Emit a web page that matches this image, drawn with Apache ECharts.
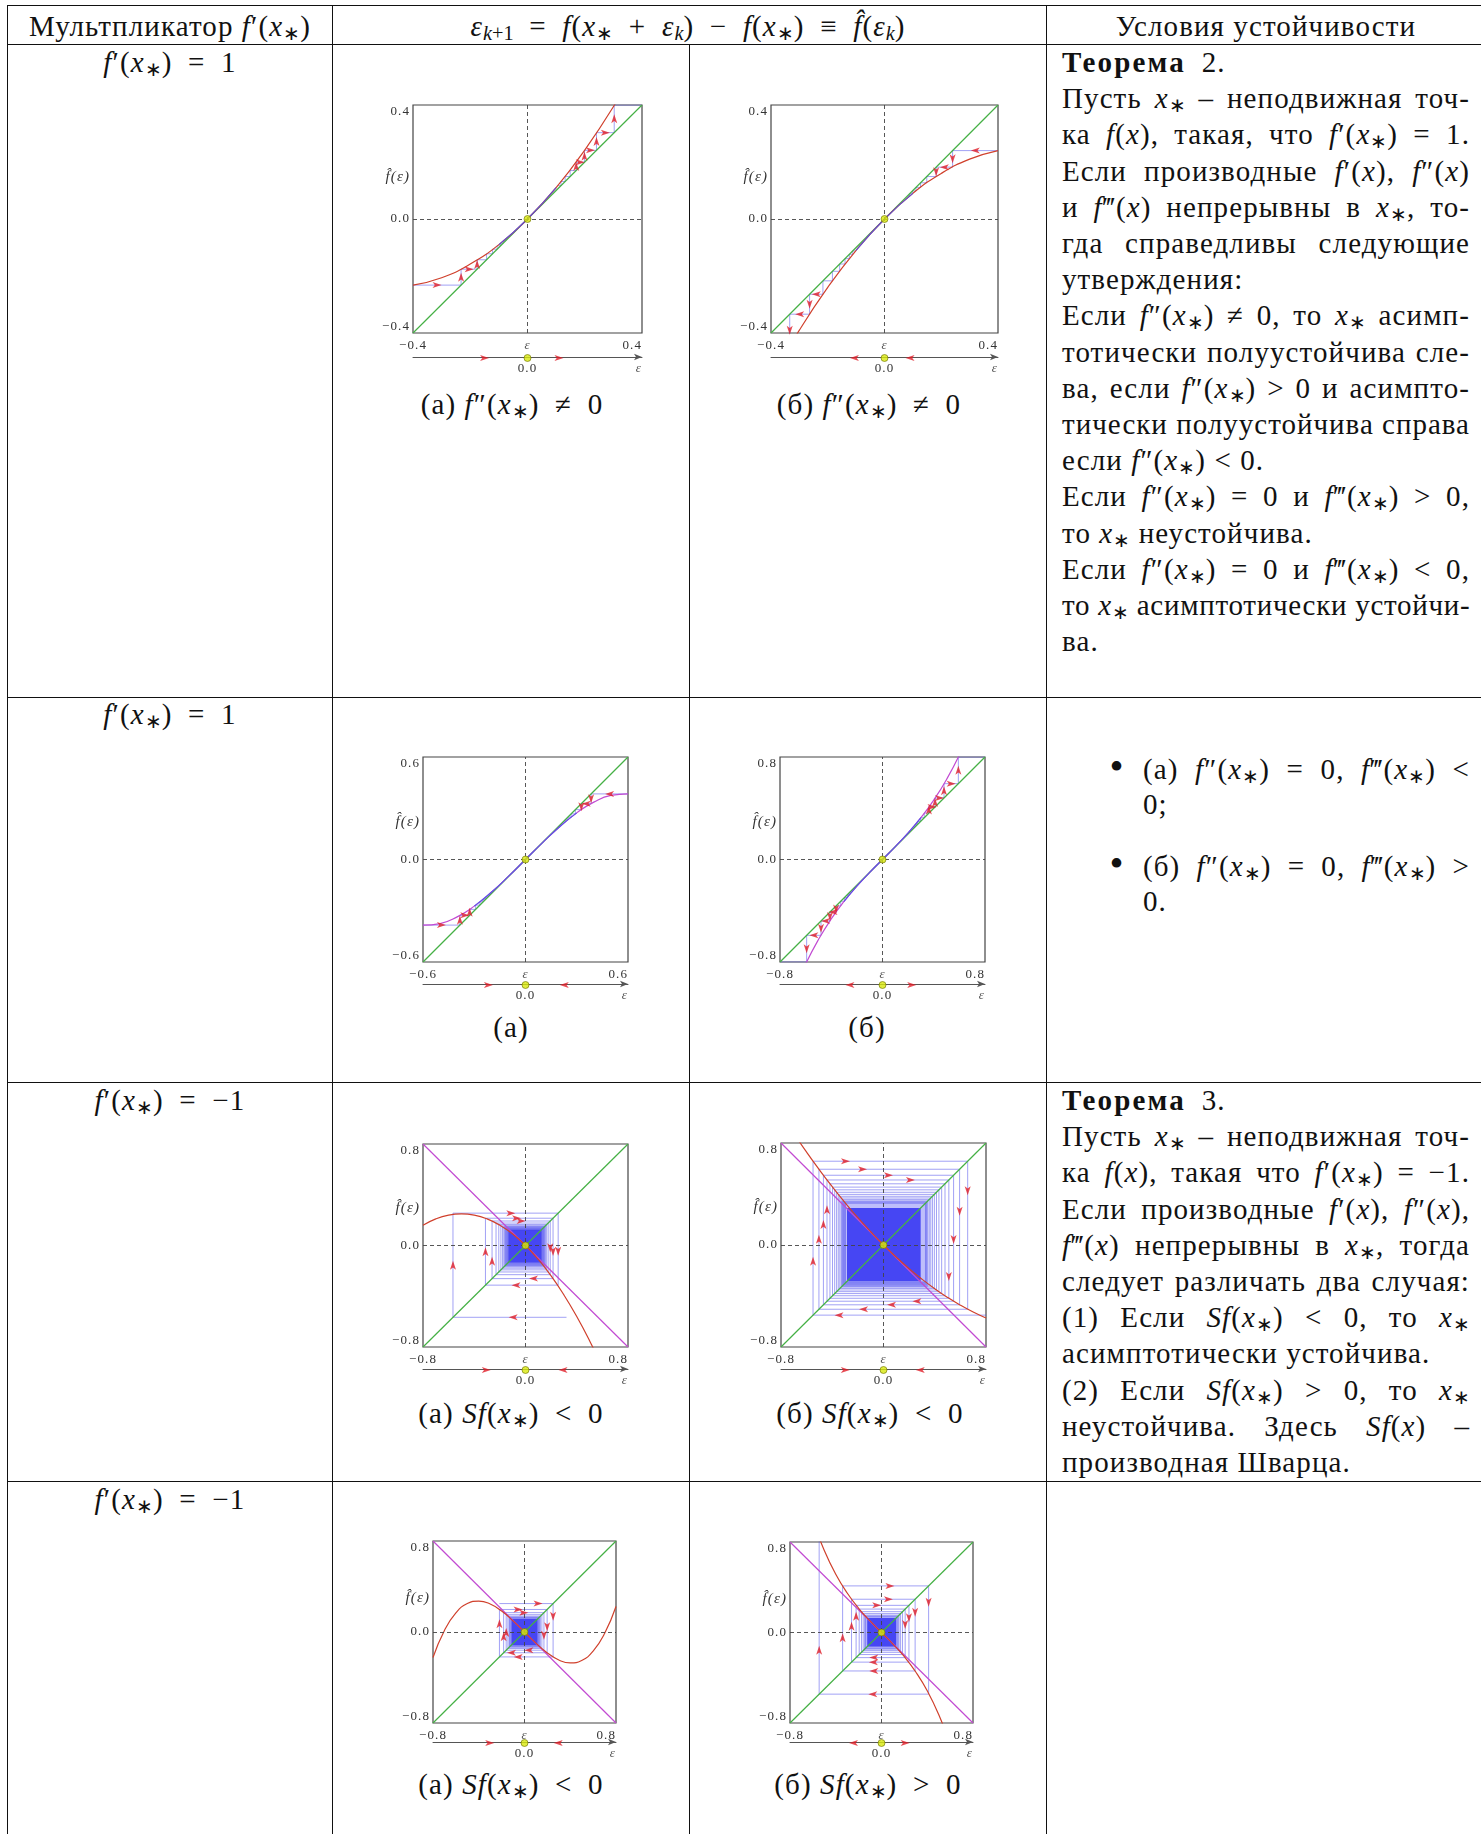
<!DOCTYPE html>
<html>
<head>
<meta charset="utf-8">
<script src="https://cdn.jsdelivr.net/npm/echarts@6/dist/echarts.min.js"></script>
<style>
  html, body { margin: 0; padding: 0; background: #fff; }
  #page { position: relative; width: 1481px; height: 1834px; overflow: hidden;
          font-family: "Liberation Serif", serif; font-size: 29px; letter-spacing: 1.1px; color: #111; }
  .h { position: absolute; height: 1px; background: #111; }
  .v { position: absolute; width: 1px; background: #111; }
  .t { position: absolute; height: 36px; line-height: 36px; white-space: nowrap; }
  .c { transform: translateX(-50%); }
  b { letter-spacing: 2.2px; }
  sub { font-size: 0.7em; vertical-align: -0.22em; line-height: 0; letter-spacing: 0; }
  .bul { font-size: 40px; }
  #chart { position: absolute; left: 0; top: 0; width: 1481px; height: 1834px; z-index: 2; pointer-events: none; }
</style>
</head>
<body>
<div id="page">
  <div id="chart"></div>
</div>
<script>
// ---------- data ----------
// (а) f'=1, f''>0
const p1Range = 0.4;
const p1E = [-0.4, -0.3, -0.2, -0.1, 0, 0.1, 0.2, 0.3, 0.4];
const p1F = [-0.232, -0.206, -0.158, -0.090, 0, 0.110, 0.242, 0.394, 0.568];
const p1CobL = [-0.4, -0.232, -0.176, -0.143, -0.122, -0.106, -0.094, -0.085, -0.077, -0.071];
const p1CobR = [0.105, 0.117, 0.1315, 0.149, 0.17, 0.199, 0.241, 0.303, 0.4];
const p1ArrL = [0, 1, 2, 3];
const p1ArrR = [7, 8, 9, 10, 11, 12, 13];
const p1NumX = [-0.15, 0.11];
const p1NumDir = [1, 1];

// (б) f'=1, f''<0
const p2Range = 0.4;
const p2E = [-0.4, -0.3, -0.2, -0.1, 0, 0.1, 0.2, 0.3, 0.4];
const p2F = [-0.56, -0.39, -0.24, -0.11, 0, 0.09, 0.16, 0.21, 0.24];
const p2CobR = [0.4, 0.24, 0.182, 0.149, 0.127, 0.111, 0.0985, 0.0888, 0.081];
const p2CobL = [-0.102, -0.112, -0.124, -0.139, -0.158, -0.1835, -0.217, -0.264, -0.334, -0.446];
const p2ArrR = [0, 1, 2, 3];
const p2ArrL = [12, 13, 14, 15];
const p2NumX = [-0.106, 0.09];
const p2NumDir = [-1, -1];

// (а) f''=0, f'''<0
const p3Range = 0.6;
const p3E = [-0.6, -0.5, -0.4, -0.3, -0.2, -0.1, 0, 0.1, 0.2, 0.3, 0.4, 0.5, 0.6];
const p3F = [-0.384, -0.375, -0.336, -0.273, -0.192, -0.099, 0, 0.099, 0.192, 0.273, 0.336, 0.375, 0.384];
const p3CobR = [0.6, 0.384, 0.327, 0.292, 0.267, 0.248, 0.233, 0.220, 0.209, 0.200, 0.192];
const p3CobL = [-0.6, -0.384, -0.327, -0.292, -0.267, -0.248, -0.233, -0.220, -0.209, -0.200, -0.192];
const p3ArrR = [0, 1, 2, 3];
const p3ArrL = [0, 1, 2, 3];
const p3NumX = [-0.217, 0.227];
const p3NumDir = [1, -1];

// (б) f''=0, f'''>0
const p4Range = 0.8;
const p4E = [-0.7, -0.6, -0.5, -0.4, -0.3, -0.2, -0.1, 0, 0.1, 0.2, 0.3, 0.4, 0.5, 0.6, 0.7];
const p4F = [-1.043, -0.816, -0.625, -0.464, -0.327, -0.208, -0.101, 0, 0.101, 0.208, 0.327, 0.464, 0.625, 0.816, 1.043];
const p4CobR = [0.225, 0.239, 0.255, 0.274, 0.297, 0.326, 0.362, 0.41, 0.48, 0.592, 0.80];
const p4CobL = [-0.225, -0.239, -0.255, -0.274, -0.297, -0.326, -0.362, -0.41, -0.48, -0.592, -0.80];
const p4ArrR = [11, 12, 13, 14, 15, 16, 17];
const p4ArrL = [11, 12, 13, 14, 15, 16, 17];
const p4NumX = [-0.254, 0.228];
const p4NumDir = [-1, 1];

// (а) f'=-1, Sf<0
const p5Range = 0.8;
const p5E = [-0.8, -0.7, -0.6, -0.5, -0.4, -0.3, -0.2, -0.1, 0, 0.1, 0.2, 0.3, 0.4, 0.5, 0.6];
const p5F = [0.16, 0.21, 0.24, 0.25, 0.24, 0.21, 0.16, 0.09, 0, -0.11, -0.24, -0.39, -0.56, -0.75, -0.96];
const p5Cob = [0.32, -0.566, 0.255, -0.3125, 0.215, -0.261, 0.193, -0.230, 0.177, -0.2085, 0.165, -0.192,
               0.155, -0.179, 0.147, -0.169, 0.140, -0.160, 0.1345, -0.1527, 0.1294, -0.1461, 0.1248, -0.1404, 0.1207];
const p5Core = [-0.135, 0.125];
const p5Halo = [-0.165, 0.155];
const p5Arr = [0, 1, 2, 3, 4, 5, 6, 7, 8, 9, 10, 11];
const p5ArrPos = [0.47, 0.5, 0.55, 0.53, 0.58, 0.5, 0.46, 0.55, 0.32, 0.3, 0.5, 0.5];
const p5NumX = [-0.306, 0.293];
const p5NumDir = [1, -1];

// (б) f'=-1, Sf<0
const p6Range = 0.8;
const p6E = [-0.7, -0.6, -0.5, -0.4, -0.3, -0.2, -0.1, 0, 0.1, 0.2, 0.3, 0.4, 0.5, 0.6, 0.7, 0.8];
const p6F = [0.874, 0.728, 0.589, 0.457, 0.332, 0.214, 0.104, 0, -0.096, -0.186, -0.268, -0.343, -0.411, -0.472, -0.526, -0.573];
const p6Cob = [0.8, -0.55, 0.657, -0.504, 0.594, -0.469, 0.547, -0.441, 0.510, -0.418, 0.480, -0.398, 0.454, -0.381,
               0.4325, -0.366, 0.4136, -0.353, 0.397, -0.341, 0.382, -0.3305, 0.369, -0.321, 0.3575, -0.312, 0.3467,
               -0.304, 0.3368, -0.2965, 0.3277, -0.2896];
const p6Core = [-0.285, 0.29];
const p6Halo = [-0.33, 0.345];
const p6Arr = [0, 1, 2, 3, 4, 5, 6, 7, 8, 9, 10, 11, 12, 13, 14, 15];
const p6ArrPos = [0.85, 0.35, 0.21, 0.2, 0.7, 0.5, 0.31, 0.31, 0.5, 0.62, 0.5, 0.51, 0.29, 0.755, 0.685, 0.815];
const p6NumX = [-0.298, 0.287];
const p6NumDir = [1, -1];

// (а) f'=-1, Sf<0 (cubic)
const p7Range = 0.8;
const p7E = [-0.8, -0.7, -0.6, -0.5, -0.4, -0.3, -0.2, -0.1, 0, 0.1, 0.2, 0.3, 0.4, 0.5, 0.6, 0.7, 0.8];
const p7F = [-0.224, 0.014, 0.168, 0.25, 0.272, 0.246, 0.184, 0.098, 0, -0.098, -0.184, -0.246, -0.272, -0.25, -0.168, -0.014, 0.224];
const p7Cob = [-0.22, 0.25, -0.219, 0.198, -0.1825, 0.170, -0.160, 0.152, -0.145, 0.139, -0.1336, 0.1288, -0.1245, 0.1206, -0.117];
const p7Core = [-0.115, 0.115];
const p7Halo = [-0.135, 0.135];
const p7Arr = [0, 1, 2, 3, 4, 5, 6, 7, 8, 9, 10, 11];
const p7ArrPos = [0.72, 0.24, 0.65, 0.7, 0.39, 0.4, 0.82, 0.4, 0.5, 0.6, 0.4, 0.5];
const p7NumX = [-0.304, 0.295];
const p7NumDir = [1, -1];

// (б) f'=-1, Sf>0
const p8Range = 0.8;
const p8E = [-0.6, -0.5, -0.4, -0.3, -0.2, -0.1, 0, 0.1, 0.2, 0.3, 0.4, 0.5, 0.6];
const p8F = [0.989, 0.725, 0.515, 0.349, 0.214, 0.102, 0, -0.102, -0.214, -0.349, -0.515, -0.725, -0.989];
const p8Cob = [0.1335, -0.138, 0.143, -0.148, 0.1535, -0.160, 0.167, -0.175, 0.184, -0.195, 0.207, -0.222,
               0.240, -0.262, 0.294, -0.340, 0.412, -0.545, 0.84];
const p8Core = [-0.125, 0.13];
const p8Halo = [-0.145, 0.15];
const p8Arr = [19, 20, 21, 22, 23, 24, 25, 26, 27, 28, 29, 30, 31, 32, 33];
const p8ArrPos = [0.32, 0.64, 0.79, 0.39, 0.22, 0.62, 0.57, 0.58, 0.18, 0.57, 0.39, 0.55, 0.15, 0.51, 0.28];
const p8NumX = [-0.245, 0.207];
const p8NumDir = [-1, 1];

// ---------- colours & layout ----------
const RED = '#d0402c', MAG = '#c24bd2', GREEN = '#45b045';
const WEB = 'rgba(70,70,235,0.5)', CORE = '#4646f3', ARROW = '#e01e28';
const FONT = 'Liberation Serif';

const plots = [
  { box: [413, 105, 229, 228], nl: 357, r: p1Range, e: p1E, f: p1F, col: RED, anti: false, mid: 0.1,
    webs: [[p1CobL, p1ArrL], [p1CobR, p1ArrR]], nx: p1NumX, nd: p1NumDir },
  { box: [771, 105, 227, 228], nl: 357, r: p2Range, e: p2E, f: p2F, col: RED, anti: false, mid: 0.1,
    webs: [[p2CobL, p2ArrL], [p2CobR, p2ArrR]], nx: p2NumX, nd: p2NumDir },
  { box: [423, 757, 205, 205], nl: 984, r: p3Range, e: p3E, f: p3F, col: MAG, anti: false, mid: 0.3,
    webs: [[p3CobL, p3ArrL], [p3CobR, p3ArrR]], nx: p3NumX, nd: p3NumDir },
  { box: [780, 757, 205, 205], nl: 984, r: p4Range, e: p4E, f: p4F, col: MAG, anti: false, mid: 0.3,
    webs: [[p4CobL, p4ArrL], [p4CobR, p4ArrR]], nx: p4NumX, nd: p4NumDir },
  { box: [423, 1144, 205, 203], nl: 1369, r: p5Range, e: p5E, f: p5F, col: RED, anti: true, mid: 0,
    webs: [[p5Cob, p5Arr, p5ArrPos]], core: p5Core, halo: p5Halo, nx: p5NumX, nd: p5NumDir },
  { box: [781, 1143, 205, 204], nl: 1369, r: p6Range, e: p6E, f: p6F, col: RED, anti: true, mid: 0,
    webs: [[p6Cob, p6Arr, p6ArrPos]], core: p6Core, halo: p6Halo, nx: p6NumX, nd: p6NumDir },
  { box: [433, 1541, 183, 182], nl: 1742, r: p7Range, e: p7E, f: p7F, col: RED, anti: true, mid: 0,
    webs: [[p7Cob, p7Arr, p7ArrPos]], core: p7Core, halo: p7Halo, nx: p7NumX, nd: p7NumDir },
  { box: [790, 1542, 183, 181], nl: 1742, r: p8Range, e: p8E, f: p8F, col: RED, anti: true, mid: 0,
    webs: [[p8Cob, p8Arr, p8ArrPos]], core: p8Core, halo: p8Halo, nx: p8NumX, nd: p8NumDir }
];

// ---------- table & text ----------
const page = document.getElementById('page');
function rule(cls, x, y, len) {
  const d = document.createElement('div');
  d.className = cls;
  d.style.left = x + 'px';
  d.style.top = y + 'px';
  if (cls === 'h') d.style.width = len + 'px'; else d.style.height = len + 'px';
  page.appendChild(d);
}
[5, 44, 697, 1082, 1481].forEach(y => rule('h', 7, y, 1474));
rule('v', 7, 5, 1829);
rule('v', 332, 5, 1829);
rule('v', 689, 44, 1790);
rule('v', 1046, 5, 1829);

function line(x, y, html, opt) {
  opt = opt || {};
  const d = document.createElement('div');
  d.className = 't' + (opt.center ? ' c' : '');
  d.style.left = x + 'px';
  d.style.top = (y - 18) + 'px';
  d.innerHTML = '<span>' + html + '</span>';
  page.appendChild(d);
  if (opt.w) {
    const sp = d.firstChild;
    const n = (sp.textContent.match(/ /g) || []).length;
    const extra = opt.w - sp.getBoundingClientRect().width;
    if (extra < 0) {
      // too long: tighten the letters a little instead of squeezing the spaces
      sp.style.letterSpacing = (1.1 + extra / sp.textContent.length) + 'px';
    } else if (n) {
      sp.style.wordSpacing = (extra / n) + 'px';
    }
  }
}
const X = '<i>x</i><sub>∗</sub>';
const fp = '<i>f</i>′', fpp = '<i>f</i>″', fppp = '<i>f</i>‴';
const op = s => '\u2002' + s + '\u2002';

line(170, 26, 'Мультпликатор ' + fp + '(' + X + ')', { center: true });
line(688, 26, '<i>ε</i><sub><i>k</i>+1</sub>' + op('=') + '<i>f</i>(' + X + op('+') + '<i>ε</i><sub><i>k</i></sub>)' +
  op('−') + '<i>f</i>(' + X + ')' + op('≡') + '<i>f̂</i>(<i>ε</i><sub><i>k</i></sub>)', { center: true });
line(1266, 26, 'Условия устойчивости', { center: true });

line(170, 62, fp + '(' + X + ')' + op('=') + '1', { center: true });
line(170, 714, fp + '(' + X + ')' + op('=') + '1', { center: true });
line(170, 1100, fp + '(' + X + ')' + op('=') + '−1', { center: true });
line(170, 1499, fp + '(' + X + ')' + op('=') + '−1', { center: true });

const TW = 408, TX = 1062;
const thm2 = [
  ['<b>Теорема</b>&ensp;2.', 0],
  ['Пусть ' + X + ' – неподвижная точ-', 1],
  ['ка <i>f</i>(<i>x</i>), такая, что ' + fp + '(' + X + ') = 1.', 1],
  ['Если производные ' + fp + '(<i>x</i>), ' + fpp + '(<i>x</i>)', 1],
  ['и ' + fppp + '(<i>x</i>) непрерывны в ' + X + ', то-', 1],
  ['гда справедливы следующие', 1],
  ['утверждения:', 0],
  ['Если ' + fpp + '(' + X + ') ≠ 0, то ' + X + ' асимп-', 1],
  ['тотически полуустойчива сле-', 1],
  ['ва, если ' + fpp + '(' + X + ') &gt; 0 и асимпто-', 1],
  ['тически полуустойчива справа', 1],
  ['если ' + fpp + '(' + X + ') &lt; 0.', 0],
  ['Если ' + fpp + '(' + X + ') = 0 и ' + fppp + '(' + X + ') &gt; 0,', 1],
  ['то ' + X + ' неустойчива.', 0],
  ['Если ' + fpp + '(' + X + ') = 0 и ' + fppp + '(' + X + ') &lt; 0,', 1],
  ['то ' + X + ' асимптотически устойчи-', 1],
  ['ва.', 0]
];
thm2.forEach((l, k) => line(TX, 62 + 36.2 * k, l[0], l[1] ? { w: TW } : {}));

const thm3 = [
  ['<b>Теорема</b>&ensp;3.', 0],
  ['Пусть ' + X + ' – неподвижная точ-', 1],
  ['ка <i>f</i>(<i>x</i>), такая что ' + fp + '(' + X + ') = −1.', 1],
  ['Если производные ' + fp + '(<i>x</i>), ' + fpp + '(<i>x</i>),', 1],
  [fppp + '(<i>x</i>) непрерывны в ' + X + ', тогда', 1],
  ['следует различать два случая:', 1],
  ['(1) Если <i>Sf</i>(' + X + ') &lt; 0, то ' + X, 1],
  ['асимптотически устойчива.', 0],
  ['(2) Если <i>Sf</i>(' + X + ') &gt; 0, то ' + X, 1],
  ['неустойчива. Здесь <i>Sf</i>(<i>x</i>) –', 1],
  ['производная Шварца.', 0]
];
thm3.forEach((l, k) => line(TX, 1100 + 36.2 * k, l[0], l[1] ? { w: TW } : {}));

line(1117, 767, '<span class="bul">•</span>', { center: true });
line(1143, 769, '(а) ' + fpp + '(' + X + ') = 0, ' + fppp + '(' + X + ') &lt;', { w: 327 });
line(1143, 804, '0;');
line(1117, 864, '<span class="bul">•</span>', { center: true });
line(1143, 866, '(б) ' + fpp + '(' + X + ') = 0, ' + fppp + '(' + X + ') &gt;', { w: 327 });
line(1143, 901, '0.');

const caps = [
  [512, 404, '(а) ' + fpp + '(' + X + ')' + op('≠') + '0'],
  [869, 404, '(б) ' + fpp + '(' + X + ')' + op('≠') + '0'],
  [511, 1027, '(а)'],
  [867, 1027, '(б)'],
  [511, 1413, '(а) <i>Sf</i>(' + X + ')' + op('&lt;') + '0'],
  [870, 1413, '(б) <i>Sf</i>(' + X + ')' + op('&lt;') + '0'],
  [511, 1784, '(а) <i>Sf</i>(' + X + ')' + op('&lt;') + '0'],
  [868, 1784, '(б) <i>Sf</i>(' + X + ')' + op('&gt;') + '0']
];
caps.forEach(c => line(c[0], c[1], c[2], { center: true }));

// ---------- charts ----------
function cobweb(it) {
  const pts = [];
  for (let k = 0; k < it.length - 1; k++) {
    pts.push([it[k], it[k + 1]]);
    pts.push([it[k + 1], it[k + 1]]);
  }
  return pts;
}
function webArrows(it, segs, pos) {
  const pts = cobweb(it);
  return segs.map((s, k) => {
    const a = pts[s], b = pts[s + 1];
    const t = pos ? pos[k] : 0.5;
    const dx = b[0] - a[0], dy = b[1] - a[1];
    const rot = dx > 0 ? -90 : dx < 0 ? 90 : (dy > 0 ? 0 : 180);
    return { value: [a[0] + dx * t, a[1] + dy * t], symbolRotate: rot };
  });
}
function square(fill, opacity) {
  return (params, api) => {
    const lo = api.value(0), hi = api.value(1);
    const a = api.coord([lo, hi]), b = api.coord([hi, lo]);
    return { type: 'rect', shape: { x: a[0], y: a[1], width: b[0] - a[0], height: b[1] - a[1] },
             style: { fill: fill, opacity: opacity } };
  };
}
const ARROW_PATH = 'path://M5,0 L10,12 L5,9 L0,12 Z';
const fmt = v => (v < 0 ? '−' : '') + Math.abs(v).toFixed(1);

const chart = echarts.init(document.getElementById('chart'));
const grid = [], xAxis = [], yAxis = [], series = [];

plots.forEach((p, i) => {
  const r = p.r, gi = 2 * i, ni = 2 * i + 1;
  const lab = 0.37 * r;
  grid.push({ left: p.box[0], top: p.box[1], width: p.box[2], height: p.box[3],
              show: true, borderColor: '#444', borderWidth: 1.2, backgroundColor: 'transparent' });
  grid.push({ left: p.box[0], top: p.nl - 2, width: p.box[2], height: 2 });

  xAxis.push({ type: 'value', gridIndex: gi, min: -r, max: r,
    axisLine: { show: false }, axisTick: { show: false }, splitLine: { show: false },
    axisLabel: { customValues: [-r, 0, r], margin: 6, fontSize: 13, fontFamily: FONT, color: '#333',
      alignMaxLabel: 'right',
      formatter: v => (v === 0 ? '{e|ε}' : fmt(v)),
      rich: { e: { fontStyle: 'italic', fontSize: 13, fontFamily: FONT, color: '#555' } } } });
  yAxis.push({ type: 'value', gridIndex: gi, min: -r, max: r,
    axisLine: { show: false }, axisTick: { show: false }, splitLine: { show: false },
    axisLabel: { customValues: [-r, 0, lab, r], margin: 3, fontSize: 13, fontFamily: FONT, color: '#333',
      verticalAlignMinLabel: 'bottom', verticalAlignMaxLabel: 'top',
      formatter: v => (Math.abs(v - lab) < 1e-9 ? '{f|f̂(ε)}' : fmt(v)),
      rich: { f: { fontStyle: 'italic', fontSize: 15, fontFamily: FONT, color: '#333' } } } });

  xAxis.push({ type: 'value', gridIndex: ni, min: -r, max: r, position: 'bottom',
    axisLine: { show: true, onZero: false, symbol: ['none', 'arrow'], symbolSize: [5, 8],
                lineStyle: { color: '#555', width: 1 } },
    axisTick: { show: false }, splitLine: { show: false },
    axisLabel: { customValues: [0, r], margin: 5, fontSize: 13, fontFamily: FONT, color: '#333',
      alignMaxLabel: 'right',
      formatter: v => (v === 0 ? '0.0' : '{e|ε}'),
      rich: { e: { fontStyle: 'italic', fontSize: 13, fontFamily: FONT, color: '#555' } } } });
  yAxis.push({ type: 'value', gridIndex: ni, min: -1, max: 1, show: false });

  const ax = { xAxisIndex: gi, yAxisIndex: gi };

  // dense part of the cobweb
  if (p.halo) {
    series.push(Object.assign({ type: 'custom', z: 1, silent: true, data: [p.halo],
      renderItem: square(CORE, 0.35) }, ax));
    series.push(Object.assign({ type: 'custom', z: 1, silent: true, data: [p.core],
      renderItem: square(CORE, 1) }, ax));
  }
  // cobweb lines
  p.webs.forEach(w => {
    series.push(Object.assign({ type: 'line', data: cobweb(w[0]), showSymbol: false, clip: true, z: 2,
      lineStyle: { color: WEB, width: 1 }, silent: true }, ax));
  });
  // diagonal + dashed zero lines
  series.push(Object.assign({ type: 'line', data: [[-r, -r], [r, r]], showSymbol: false, z: 3, silent: true,
    lineStyle: { color: GREEN, width: 1.2 },
    markLine: { silent: true, symbol: ['none', 'none'], label: { show: false },
      lineStyle: { color: '#444', type: [4, 3], width: 0.9 }, data: [{ xAxis: 0 }, { yAxis: 0 }] } }, ax));
  if (p.anti) {
    series.push(Object.assign({ type: 'line', data: [[-r, r], [r, -r]], showSymbol: false, z: 3, silent: true,
      lineStyle: { color: MAG, width: 1.2 } }, ax));
  }
  // map curve
  const curve = p.e.map((e, k) => [e, p.f[k]]);
  series.push(Object.assign({ type: 'line', data: curve, smooth: true, showSymbol: false, clip: true, z: 4,
    silent: true, lineStyle: { color: p.col, width: 1.2 } }, ax));
  if (p.mid) {
    series.push(Object.assign({ type: 'line', data: curve.filter(c => Math.abs(c[0]) <= p.mid + 1e-9),
      smooth: true, showSymbol: false, z: 4, silent: true,
      lineStyle: { color: 'rgba(80,80,235,0.85)', width: 1.2 } }, ax));
  }
  // arrows on the cobweb
  const arr = [];
  p.webs.forEach(w => arr.push(...webArrows(w[0], w[1], w[2])));
  series.push(Object.assign({ type: 'scatter', data: arr, symbol: ARROW_PATH, symbolSize: [6, 9], clip: true,
    z: 5, silent: true, itemStyle: { color: ARROW } }, ax));
  // fixed point
  series.push(Object.assign({ type: 'scatter', data: [[0, 0]], symbolSize: 7, z: 6, silent: true,
    itemStyle: { color: '#d8e80c', borderColor: '#6f7400', borderWidth: 0.8 } }, ax));

  // number line
  const nax = { xAxisIndex: ni, yAxisIndex: ni };
  series.push(Object.assign({ type: 'scatter', z: 5, silent: true, symbol: ARROW_PATH, symbolSize: [6, 9],
    symbolOffset: [0, 1],
    data: p.nx.map((x, k) => ({ value: [x, -1], symbolRotate: p.nd[k] > 0 ? -90 : 90 })),
    itemStyle: { color: ARROW } }, nax));
  series.push(Object.assign({ type: 'scatter', z: 6, silent: true, symbolSize: 7, symbolOffset: [0, 1],
    data: [[0, -1]], itemStyle: { color: '#d8e80c', borderColor: '#6f7400', borderWidth: 0.8 } }, nax));
});

chart.setOption({ animation: false, backgroundColor: 'transparent', grid, xAxis, yAxis, series });
</script>
</body>
</html>
